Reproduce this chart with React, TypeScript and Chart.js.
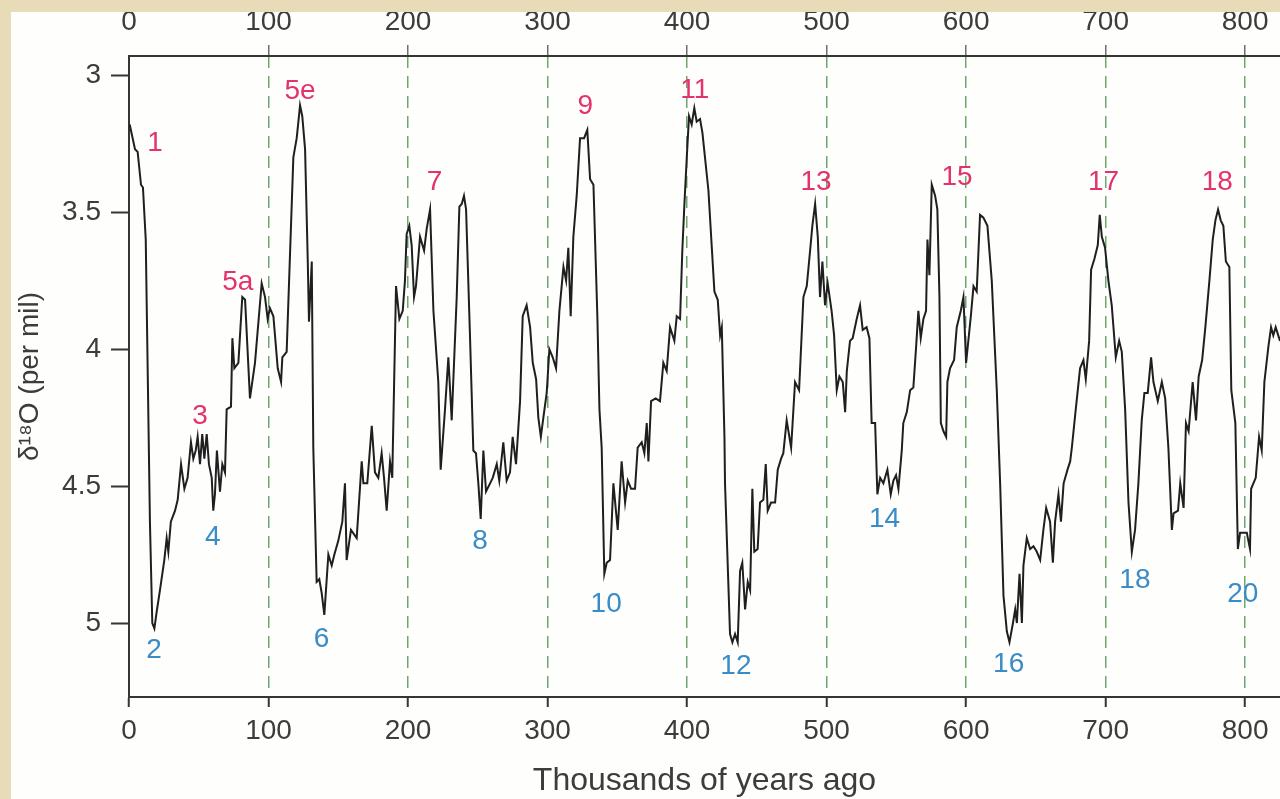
import React, { useEffect, useRef } from "react";
import { Chart, registerables } from "chart.js";

Chart.register(...registerables);

// Age (thousands of years ago)
const ageKa = [
  0.5, 4.3, 6.2, 8.6, 10, 12, 13.4, 15, 16.7, 18.2, 19.8, 22.2, 25.3, 27, 28.2, 30, 33, 34.9, 37.3, 39.7,
  42, 44.4, 46.1, 47.8, 49.2, 50.9, 52.5, 54, 55.7, 57.3, 59.3, 60.4, 61.6, 63, 65.2, 66.9, 68.8, 70, 73.1, 74.1,
  75.5, 78.4, 81.2, 83.2, 86.7, 90.3, 95.1, 97.5, 99.4, 101, 103.5, 106.6, 109, 109.9, 113, 117.8, 120.2, 122.6, 124.2, 126.2,
  128.1, 129, 131, 132.1, 134.5, 136.4, 138.1, 140, 142.9, 145.3, 147.2, 150, 152.9, 154.8, 156, 159.1, 163.2, 166.8,
  168, 170.8, 174, 176.3, 178.7, 181.1, 182.8, 184.7, 187.1, 188.7, 191.4, 193.8, 196.2, 197.8, 199, 200.9, 202.6, 204.3,
  205.7, 208.6, 211.5, 213.4, 215.8, 218.2, 221.7, 223.4, 226.5, 228.9, 231.3, 234.9, 236.8, 238.5, 240.1, 241.6, 244.4, 246.8,
  248.7, 250.4, 252.1, 254, 255.9, 258.8, 260.7, 263.6, 265.4, 268.3, 270.7, 273.1, 275, 277.4, 280.3, 282.2, 285, 287.5,
  289.4, 291.8, 293.4, 295.2, 297, 299.4, 301.3, 303.7, 306.1, 308.5, 311.4, 313.3, 314.9, 316.6, 318.5, 320.9, 323.3, 326.2,
  328.5, 330.5, 332.9, 335.7, 337.2,
  338.8, 340.7, 342.4, 344.8, 347.2, 350.3, 353.1, 355.6, 357.5, 359.9, 362.7, 364.6, 367.5, 369.4, 371.1, 372.3, 374.2, 377.5,
  380.6, 383, 385.4, 387.8, 390.9, 392.6, 395, 396.6, 398.1, 399.8, 401.4, 403.3, 405.2, 406.9, 409.3, 411, 415.3, 419.6,
  422, 423.7, 424.9, 426.8, 427.2, 430.8, 432.5, 434.4, 436.3, 438, 439.6, 441.6, 443.5, 445.2, 446.8, 448.2, 450.6, 452.3,
  454.7, 456.4, 457.8, 460.2, 463.1, 465, 467.4, 469, 471.4, 474.6, 477.4, 480.3, 483.4, 485.8, 488.2, 489.8, 491.8, 493.7,
  495.3, 497, 498.9, 500.8, 503.6, 505.4,
  507.3, 509.2, 511.6, 513.3, 514.5, 516.8, 518.7, 521.6, 524, 525.9, 528.7, 530.7, 532.3, 534.8, 536.4, 538.4, 540.7, 543.6,
  546, 547.9, 549.8, 551.5, 553.9, 555, 557.5, 559.9, 562.2, 564.2, 565.8, 567.5, 569.4, 571.3, 572.3, 573.7, 575.4, 577.8,
  579.4, 580.9, 581.9, 583.8, 585.7, 586.6, 588.5, 591.4, 593.3, 596.2, 598.1, 600, 601.6, 603.4, 605.3, 607.6, 610, 612.4,
  615.3, 618.4, 622, 624.4, 626.8, 629.2, 631.1, 633.6, 635.2, 636.4, 638.3, 640, 641.1, 643.5, 645.9, 648.3, 650.7, 653.1,
  655.4, 657.4, 660.2, 662.2, 663.8, 666.2, 668, 669.9, 672.7, 674.6,
  675.8, 678.6, 681.7, 684.1, 685.8, 688.2, 689.6, 692, 694.4, 695.8, 697.3, 699.6, 702, 704.4, 707.3, 709.7, 711.6, 714,
  716.4, 718.8, 721.1, 723.5, 725.9, 727.8, 730.2, 732.6, 734.3, 737.4, 740.3, 742.7, 745, 747.5, 748.7, 751.9, 753.5, 755.9,
  757.6, 759.5, 762.4, 764.8, 766.7, 769.2, 771.5, 774.4, 776.8, 778.7, 780.6, 782.5, 784.4, 786.2, 788.7, 790.1, 793, 794.8,
  796.4, 798.8, 801.2, 803.5, 804.3, 807.6, 810, 811.9, 813.8, 816.7, 818.6, 820.2, 821.9, 825,
];

// delta 18O (per mil)
const d18O = [
  3.18, 3.27, 3.28, 3.40, 3.41, 3.60, 4.08, 4.63, 5.00, 5.02, 4.96, 4.88, 4.77, 4.69, 4.74, 4.63, 4.59, 4.55, 4.42, 4.51,
  4.47, 4.34, 4.40, 4.37, 4.32, 4.42, 4.31, 4.40, 4.31, 4.42, 4.47, 4.59, 4.53, 4.37, 4.52, 4.42, 4.45, 4.22, 4.21, 3.96,
  4.07, 4.05, 3.81, 3.82, 4.18, 4.05, 3.76, 3.81, 3.89, 3.85, 3.88, 4.07, 4.12, 4.03, 4.01, 3.30, 3.23, 3.11, 3.15, 3.27,
  3.67, 3.90, 3.68, 4.36, 4.85, 4.84, 4.89, 4.97, 4.75, 4.79, 4.75, 4.70, 4.63, 4.49, 4.77, 4.66, 4.69, 4.41,
  4.49, 4.49, 4.28, 4.45, 4.47, 4.38, 4.47, 4.59, 4.41, 4.47, 3.77, 3.89, 3.86, 3.75, 3.58, 3.55, 3.62, 3.81,
  3.77, 3.59, 3.64, 3.56, 3.49, 3.86, 4.12, 4.44, 4.22, 4.03, 4.26, 3.81, 3.48, 3.47, 3.44, 3.49, 3.95, 4.37,
  4.38, 4.49, 4.62, 4.37, 4.52, 4.49, 4.47, 4.42, 4.48, 4.34, 4.48, 4.45, 4.32, 4.42, 4.19, 3.88, 3.84, 3.92,
  4.05, 4.11, 4.25, 4.32, 4.25, 4.16, 4.00, 4.03, 4.07, 3.86, 3.70, 3.75, 3.63, 3.88, 3.59, 3.44, 3.23, 3.23,
  3.20, 3.38, 3.40, 3.88, 4.22,
  4.36, 4.82, 4.78, 4.77, 4.49, 4.66, 4.41, 4.56, 4.48, 4.51, 4.51, 4.36, 4.34, 4.38, 4.27, 4.41, 4.19, 4.18,
  4.19, 4.05, 4.08, 3.92, 3.97, 3.88, 3.89, 3.64, 3.47, 3.30, 3.15, 3.18, 3.12, 3.17, 3.16, 3.21, 3.42, 3.79,
  3.82, 3.95, 3.92, 4.32, 4.49, 5.04, 5.07, 5.04, 5.07, 4.81, 4.78, 4.95, 4.85, 4.88, 4.51, 4.74, 4.73, 4.56,
  4.55, 4.42, 4.59, 4.56, 4.56, 4.44, 4.40, 4.38, 4.26, 4.36, 4.12, 4.15, 3.81, 3.77, 3.64, 3.55, 3.47, 3.59,
  3.81, 3.68, 3.84, 3.76, 3.86, 3.95,
  4.15, 4.10, 4.12, 4.23, 4.08, 3.97, 3.96, 3.89, 3.84, 3.93, 3.92, 3.96, 4.27, 4.27, 4.53, 4.47, 4.49, 4.44,
  4.53, 4.48, 4.46, 4.51, 4.37, 4.27, 4.23, 4.15, 4.14, 3.99, 3.86, 3.96, 3.89, 3.86, 3.60, 3.73, 3.40, 3.44,
  3.49, 3.81, 4.27, 4.30, 4.32, 4.12, 4.07, 4.04, 3.92, 3.86, 3.81, 4.05, 3.97, 3.88, 3.77, 3.79, 3.51, 3.52,
  3.55, 3.75, 4.15, 4.49, 4.90, 5.03, 5.07, 5.00, 4.95, 5.00, 4.82, 5.00, 4.79, 4.69, 4.73, 4.72, 4.74, 4.77,
  4.66, 4.58, 4.63, 4.78, 4.63, 4.53, 4.63, 4.49, 4.44, 4.41,
  4.36, 4.22, 4.07, 4.04, 4.11, 3.97, 3.71, 3.67, 3.62, 3.51, 3.59, 3.63, 3.75, 3.84, 4.03, 3.97, 4.01, 4.22,
  4.56, 4.74, 4.66, 4.49, 4.26, 4.16, 4.16, 4.03, 4.12, 4.19, 4.12, 4.18, 4.36, 4.66, 4.60, 4.59, 4.49, 4.58,
  4.27, 4.30, 4.12, 4.26, 4.10, 4.04, 3.92, 3.75, 3.60, 3.53, 3.49, 3.53, 3.55, 3.68, 3.70, 4.15, 4.27, 4.73,
  4.67, 4.67, 4.67, 4.73, 4.51, 4.47, 4.32, 4.37, 4.12, 3.99, 3.92, 3.95, 3.92, 3.97,
];

const xTickValues = [0, 100, 200, 300, 400, 500, 600, 700, 800];
const yTickValues = [3, 3.5, 4, 4.5, 5];

// Interglacial (warm) marine isotope stages
const warmStageNames = ["1", "3", "5a", "5e", "7", "9", "11", "13", "15", "17", "18"];
const warmStageAge = [18.6, 51, 78, 122.6, 219, 327, 405.5, 492.5, 593.5, 698.5, 780];
const warmStageValue = [3.25, 4.245, 3.755, 3.06, 3.39, 3.115, 3.055, 3.39, 3.372, 3.39, 3.39];

// Glacial (cold) marine isotope stages
const coldStageNames = ["2", "4", "6", "8", "10", "12", "14", "16", "18", "20"];
const coldStageAge = [18, 60, 138, 251.6, 342, 435, 541.5, 630.5, 721, 798.3];
const coldStageValue = [5.1, 4.686, 5.06, 4.70, 4.93, 5.157, 4.622, 5.15, 4.845, 4.896];

const X_MIN = 0;
const X_MAX = 825;
const Y_MIN = 2.93;
const Y_MAX = 5.27;

const FONT = '"Liberation Sans", Arial, Helvetica, sans-serif';
const WARM_COLOR = "#e4336a";
const COLD_COLOR = "#3a8cc6";
const AXIS_COLOR = "#353535";
const TEXT_COLOR = "#3c3c3c";
const GRID_COLOR = "rgba(95,155,95,0.9)";

const stageLabelPlugin = {
  id: "stageLabels",
  afterDatasetsDraw(chart: any) {
    const { ctx, scales } = chart;
    const xs = scales.x;
    const ys = scales.y;
    ctx.save();
    ctx.font = `28px ${FONT}`;
    ctx.textAlign = "center";
    ctx.textBaseline = "middle";
    ctx.fillStyle = WARM_COLOR;
    warmStageNames.forEach((t, i) => {
      ctx.fillText(t, xs.getPixelForValue(warmStageAge[i]), ys.getPixelForValue(warmStageValue[i]));
    });
    ctx.fillStyle = COLD_COLOR;
    coldStageNames.forEach((t, i) => {
      ctx.fillText(t, xs.getPixelForValue(coldStageAge[i]), ys.getPixelForValue(coldStageValue[i]));
    });
    ctx.restore();
  },
};

export default function App() {
  const canvasRef = useRef<HTMLCanvasElement | null>(null);

  useEffect(() => {
    document.body.style.margin = "0";
    const canvas = canvasRef.current;
    if (!canvas) return;
    const points = ageKa.map((a, i) => ({ x: a, y: d18O[i] }));
    const chart = new Chart(canvas, {
      type: "line",
      data: {
        datasets: [
          {
            data: points,
            borderColor: "#1f1f1f",
            borderWidth: 2,
            pointRadius: 0,
            tension: 0,
            fill: false,
          },
        ],
      },
      options: {
        animation: false,
        responsive: false,
        parsing: false as any,
        layout: { padding: 0 },
        plugins: {
          legend: { display: false },
          tooltip: { enabled: false },
        },
        scales: {
          x: {
            type: "linear",
            position: "bottom",
            min: X_MIN,
            max: X_MAX,
            afterBuildTicks: (s: any) => {
              s.ticks = xTickValues.map((v) => ({ value: v }));
            },
            afterFit: (s: any) => {
              s.height = 102;
            },
            ticks: {
              font: { size: 28, family: FONT },
              color: TEXT_COLOR,
              padding: 7,
              maxRotation: 0,
              autoSkip: false,
              callback: (v: any) => String(v),
            },
            grid: {
              display: true,
              drawOnChartArea: true,
              drawTicks: true,
              tickLength: 10,
              lineWidth: 1.5,
              color: (c: any) => (c.tick && c.tick.value === 0 ? "rgba(0,0,0,0)" : GRID_COLOR),
              tickColor: AXIS_COLOR,
              tickWidth: 2,
            },
            border: { display: true, color: AXIS_COLOR, width: 2, dash: [12, 8] },
            title: {
              display: true,
              text: "Thousands of years ago",
              color: TEXT_COLOR,
              font: { size: 32, family: FONT, lineHeight: 1.1 },
              padding: { top: 0, bottom: 0 },
            },
          },
          x2: {
            type: "linear",
            position: "top",
            axis: "x",
            min: X_MIN,
            max: X_MAX,
            afterBuildTicks: (s: any) => {
              s.ticks = xTickValues.map((v) => ({ value: v }));
            },
            afterFit: (s: any) => {
              s.height = 44;
            },
            ticks: {
              font: { size: 28, family: FONT },
              color: TEXT_COLOR,
              padding: 6,
              maxRotation: 0,
              autoSkip: false,
              callback: (v: any) => String(v),
            },
            grid: {
              display: true,
              drawOnChartArea: false,
              drawTicks: true,
              tickLength: 11,
              lineWidth: 1.5,
              color: "#777777",
              tickColor: (c: any) => (c.tick && c.tick.value === 0 ? "rgba(0,0,0,0)" : "#6f6f6f"),
              tickWidth: 1.5,
            },
            border: { display: true, color: AXIS_COLOR, width: 2 },
          },
          y: {
            type: "linear",
            position: "left",
            reverse: true,
            min: Y_MIN,
            max: Y_MAX,
            afterBuildTicks: (s: any) => {
              s.ticks = yTickValues.map((v) => ({ value: v }));
            },
            afterFit: (s: any) => {
              s.width = 118;
            },
            ticks: {
              font: { size: 28, family: FONT },
              color: TEXT_COLOR,
              padding: 10,
              callback: (v: any) => String(v),
            },
            grid: {
              display: true,
              drawOnChartArea: false,
              drawTicks: true,
              tickLength: 18,
              color: AXIS_COLOR,
              tickColor: AXIS_COLOR,
              tickWidth: 2,
            },
            border: { display: true, color: AXIS_COLOR, width: 2 },
            title: {
              display: true,
              text: "δ¹⁸O (per mil)",
              color: TEXT_COLOR,
              font: { size: 28, family: FONT, lineHeight: 1.2 },
              padding: { top: 2, bottom: 0 },
            },
          },
        },
      },
      plugins: [stageLabelPlugin],
    });
    return () => chart.destroy();
  }, []);

  return (
    <div
      style={{
        position: "fixed",
        left: 0,
        top: 0,
        width: 1280,
        height: 799,
        background: "#e7dcb7",
        overflow: "hidden",
      }}
    >
      <div
        style={{
          position: "absolute",
          left: 11,
          top: 12,
          width: 1269,
          height: 787,
          background: "#fefefd",
        }}
      >
        <canvas ref={canvasRef} width={1269} height={787} style={{ display: "block" }} />
      </div>
    </div>
  );
}
